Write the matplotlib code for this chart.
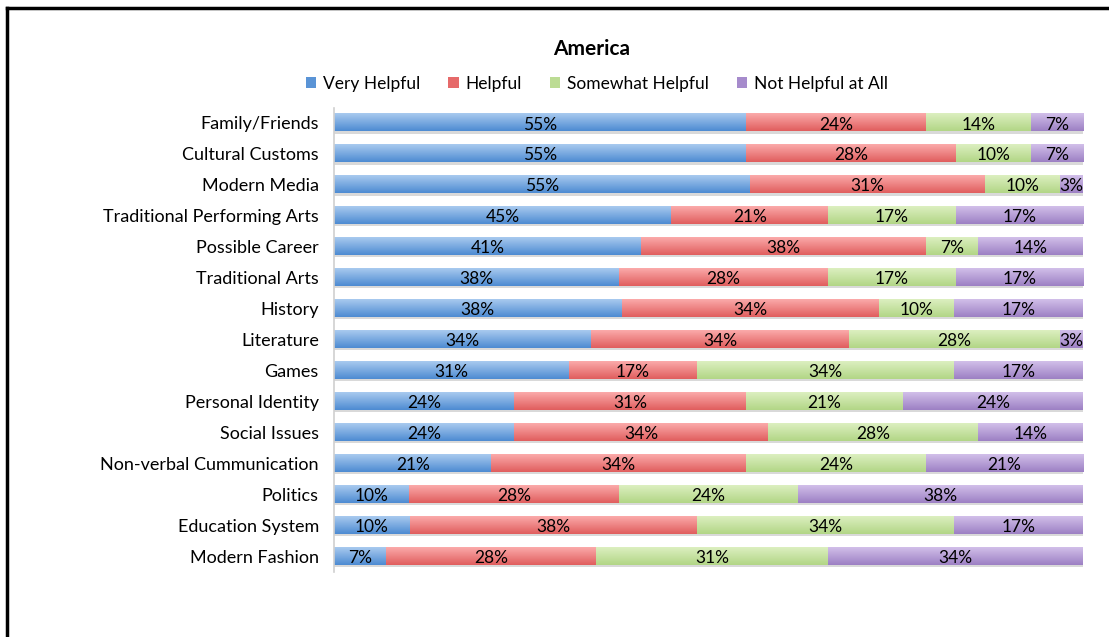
import numpy as np
import matplotlib.pyplot as plt
from matplotlib.colors import LinearSegmentedColormap
from matplotlib.patches import Patch
from matplotlib.lines import Line2D

plt.rcParams['font.family'] = ['Lato', 'DejaVu Sans']

# data (percent labels as shown in the chart)
categories = ['Family/Friends', 'Cultural Customs', 'Modern Media', 'Traditional Performing Arts',
              'Possible Career', 'Traditional Arts', 'History', 'Literature', 'Games',
              'Personal Identity', 'Social Issues', 'Non-verbal Cummunication', 'Politics',
              'Education System', 'Modern Fashion']
series_names = ['Very Helpful', 'Helpful', 'Somewhat Helpful', 'Not Helpful at All']
very_helpful = [55, 55, 55, 45, 41, 38, 38, 34, 31, 24, 24, 21, 10, 10, 7]
helpful = [24, 28, 31, 21, 38, 28, 34, 34, 17, 31, 34, 34, 28, 38, 28]
somewhat_helpful = [14, 10, 10, 17, 7, 17, 10, 28, 34, 21, 28, 24, 24, 34, 31]
not_helpful = [7, 7, 3, 17, 14, 17, 17, 3, 17, 24, 14, 21, 38, 17, 34]

# gradient colours (top, bottom) like the Excel bars
grad = [('#a9caef', '#4d8bd2'),
        ('#fbaaaa', '#e05e5e'),
        ('#dcefc0', '#b2d686'),
        ('#d2bfe9', '#9c80c4')]
legend_cols = ['#5a94d6', '#e66a6a', '#bcdc94', '#a68bcc']

series = [very_helpful, helpful, somewhat_helpful, not_helpful]
vals = np.array(series, dtype=float)
vals = vals / vals.sum(axis=0) * 100  # 100% stacked

fig = plt.figure(figsize=(11.09, 6.37), dpi=100)
ax = fig.add_axes([0.3012, 0.1028, 0.6754, 0.7284])

y = np.arange(len(categories))
h = 0.55
g = np.linspace(0, 1, 64).reshape(-1, 1)
left = np.zeros(len(categories))
for i, name in enumerate(series_names):
    cmap = LinearSegmentedColormap.from_list('c%d' % i, [grad[i][0], grad[i][1]])
    for j in range(len(categories)):
        w = vals[i, j]
        # shadow under the bar
        ax.add_patch(plt.Rectangle((left[j], y[j] + h / 2), w, 0.07, color='#d9d9d9', lw=0, zorder=1))
        ax.imshow(g, cmap=cmap, aspect='auto', interpolation='bilinear',
                  extent=[left[j], left[j] + w, y[j] + h / 2, y[j] - h / 2], zorder=2)
        ax.text(left[j] + w / 2, y[j] + 0.05, '%d%%' % series[i][j], ha='center', va='center',
                fontsize=12.5, color='black', zorder=3)
    left += vals[i]

ax.set_xlim(0, 100)
ax.set_ylim(len(categories) - 0.5, -0.5)
ax.set_yticks(y)
ax.set_yticklabels(categories, fontsize=13)
ax.tick_params(axis='y', length=0, pad=11)
ax.set_xticks([])
for s in ['top', 'right', 'bottom']:
    ax.spines[s].set_visible(False)
ax.spines['left'].set_color('#d0d0d0')
ax.spines['left'].set_linewidth(1.2)

fig.text(592 / 1109, 1 - 49 / 637, 'America', ha='center', va='center',
         fontsize=15, fontweight='bold')
handles = [Patch(facecolor=c, edgecolor='none') for c in legend_cols]
fig.legend(handles, series_names, loc='center', bbox_to_anchor=(597 / 1109, 1 - 84 / 637),
           ncol=4, frameon=False, fontsize=12.5, handlelength=0.6, handleheight=0.6,
           handletextpad=0.4, columnspacing=1.6)

# outer frame (top and left edges visible)
fig.add_artist(Line2D([6.5 / 1109, 1], [1 - 7.5 / 637, 1 - 7.5 / 637], color='black', lw=2.5,
                      transform=fig.transFigure))
fig.add_artist(Line2D([6.5 / 1109, 6.5 / 1109], [0, 1 - 7.5 / 637], color='black', lw=2.5,
                      transform=fig.transFigure))

fig.savefig('out.png', dpi=100)
